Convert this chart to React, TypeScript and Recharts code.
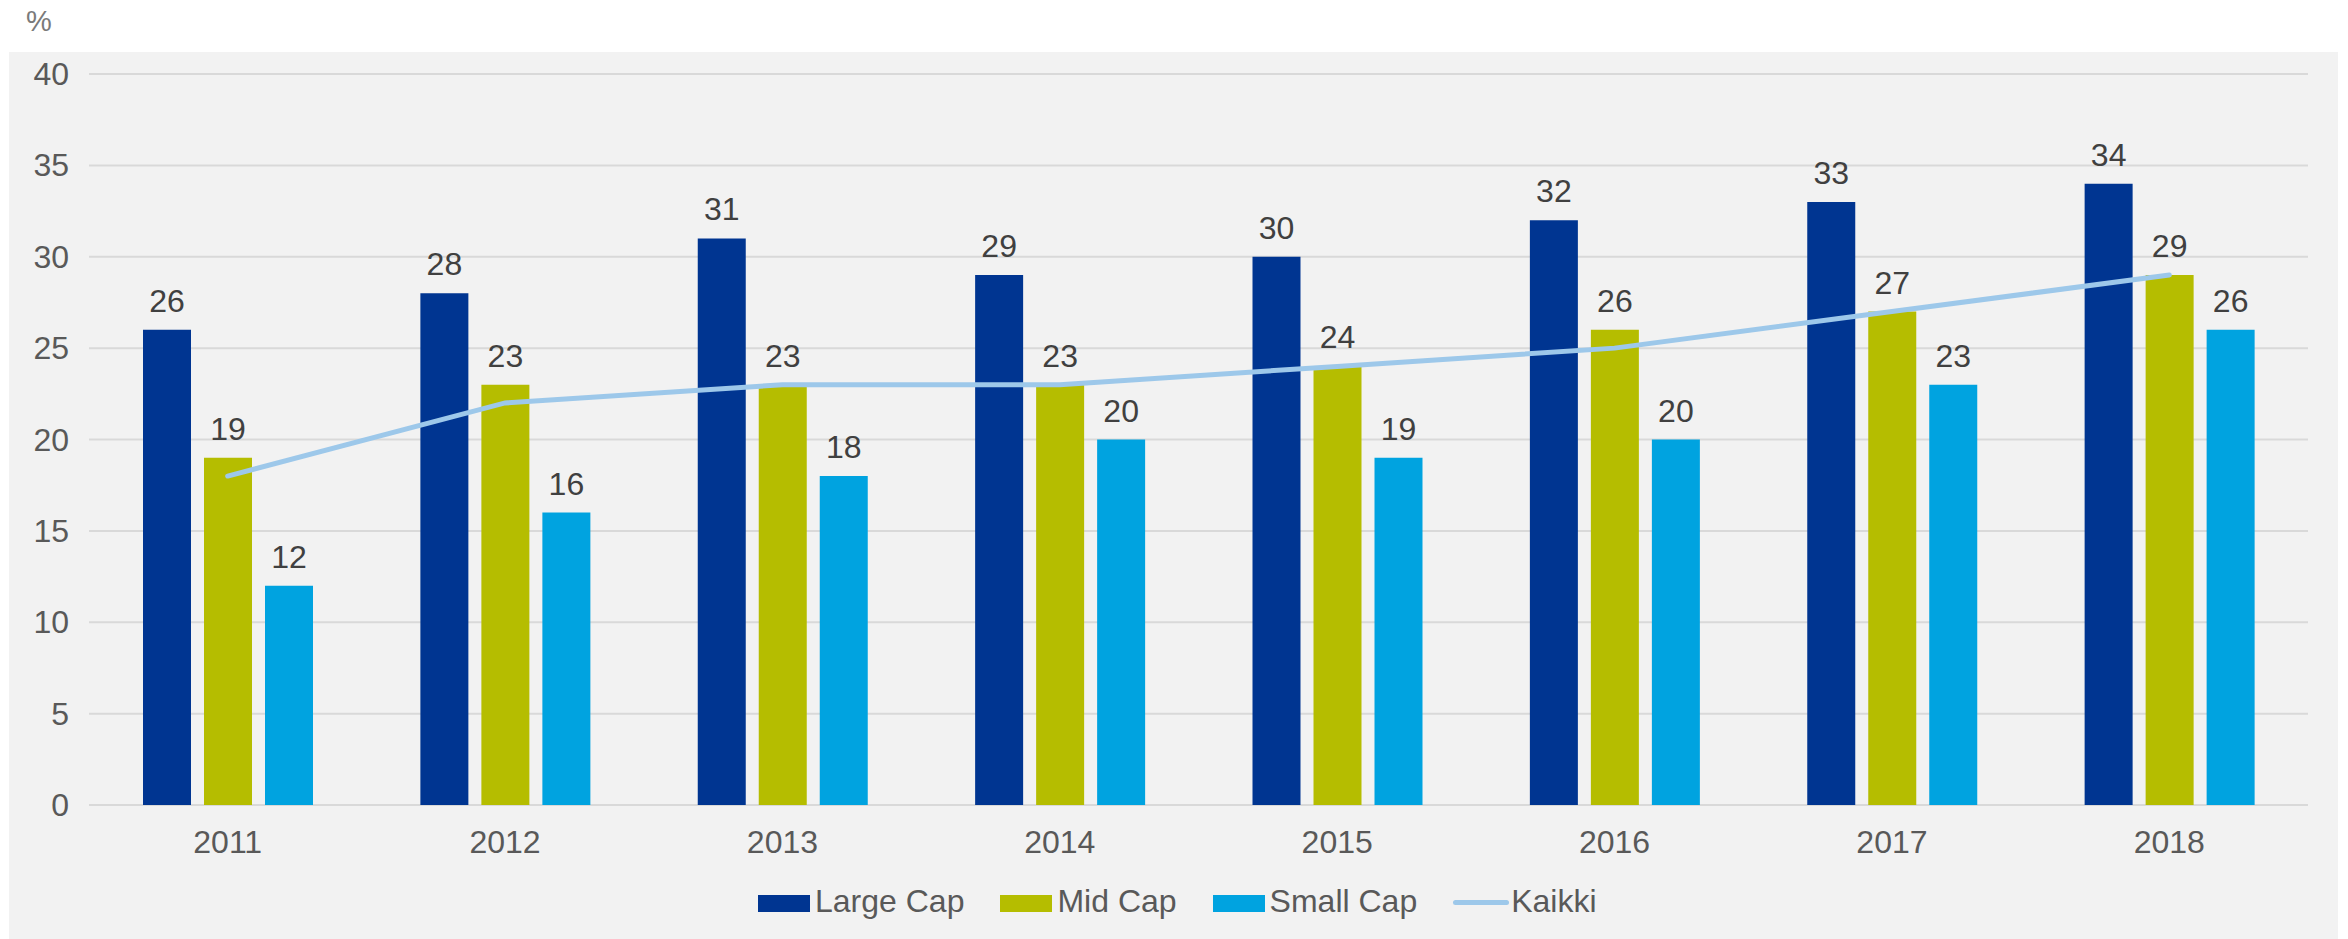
import React from 'react';
import {
  ComposedChart,
  Bar,
  Line,
  XAxis,
  YAxis,
  CartesianGrid,
  LabelList,
} from 'recharts';

const years = ['2011', '2012', '2013', '2014', '2015', '2016', '2017', '2018'];
const largeCap = [26, 28, 31, 29, 30, 32, 33, 34];
const midCap = [19, 23, 23, 23, 24, 26, 27, 29];
const smallCap = [12, 16, 18, 20, 19, 20, 23, 26];
const kaikki = [18, 22, 23, 23, 24, 25, 27, 29];
const yTicks = [0, 5, 10, 15, 20, 25, 30, 35, 40];

const FONT = "'Liberation Sans', Arial, sans-serif";
const TICK_COLOR = '#595959';
const LABEL_COLOR = '#404040';

const COLORS = {
  large: '#003591',
  mid: '#B5BD00',
  small: '#00A3E0',
  line: '#9DC8EA',
};

const data = years.map((year, i) => ({
  year,
  large: largeCap[i],
  mid: midCap[i],
  small: smallCap[i],
  all: kaikki[i],
}));

const legendItems = [
  { name: 'Large Cap', color: COLORS.large, kind: 'box' },
  { name: 'Mid Cap', color: COLORS.mid, kind: 'box' },
  { name: 'Small Cap', color: COLORS.small, kind: 'box' },
  { name: 'Kaikki', color: COLORS.line, kind: 'line' },
];

const YTick = (props: any) => {
  const { x, y, payload } = props;
  return (
    <text
      x={x - 20}
      y={y}
      textAnchor="end"
      dominantBaseline="central"
      fontSize={32}
      fontFamily={FONT}
      fill={TICK_COLOR}
    >
      {payload.value}
    </text>
  );
};

const XTick = (props: any) => {
  const { x, y, payload } = props;
  return (
    <text
      x={x}
      y={y + 48}
      textAnchor="middle"
      fontSize={32}
      fontFamily={FONT}
      fill={TICK_COLOR}
    >
      {payload.value}
    </text>
  );
};

const labelProps = {
  position: 'top' as const,
  offset: 18,
  fontSize: 32,
  fontFamily: FONT,
  fill: LABEL_COLOR,
};

const App: React.FC = () => {
  return (
    <div
      style={{
        position: 'absolute',
        left: 0,
        top: 0,
        width: 2348,
        height: 939,
        background: '#ffffff',
        fontFamily: FONT,
      }}
    >
      <div
        style={{
          position: 'absolute',
          left: 9,
          top: 52,
          width: 2329,
          height: 887,
          background: '#F2F2F2',
        }}
      />
      <div
        style={{
          position: 'absolute',
          left: 26,
          top: 7,
          fontSize: 29,
          lineHeight: 1,
          color: '#7a7a7a',
        }}
      >
        %
      </div>
      <div style={{ position: 'absolute', left: 0, top: 0 }}>
        <ComposedChart
          width={2348}
          height={939}
          data={data}
          margin={{ top: 74, right: 40, left: 0, bottom: 0 }}
          barSize={48}
          barGap={13}
        >
          <CartesianGrid vertical={false} stroke="#D9D9D9" strokeWidth={2} />
          <XAxis
            dataKey="year"
            height={134}
            axisLine={false}
            tickLine={false}
            tickSize={0}
            tickMargin={0}
            tick={<XTick />}
            interval={0}
          />
          <YAxis
            width={89}
            domain={[0, 40]}
            ticks={yTicks}
            axisLine={false}
            tickLine={false}
            tickSize={0}
            tickMargin={0}
            tick={<YTick />}
          />
          <Bar dataKey="large" name="Large Cap" fill={COLORS.large} isAnimationActive={false}>
            <LabelList dataKey="large" {...labelProps} />
          </Bar>
          <Bar dataKey="mid" name="Mid Cap" fill={COLORS.mid} isAnimationActive={false}>
            <LabelList dataKey="mid" {...labelProps} />
          </Bar>
          <Bar dataKey="small" name="Small Cap" fill={COLORS.small} isAnimationActive={false}>
            <LabelList dataKey="small" {...labelProps} />
          </Bar>
          <Line
            type="linear"
            dataKey="all"
            name="Kaikki"
            stroke={COLORS.line}
            strokeWidth={5}
            strokeLinecap="round"
            dot={false}
            activeDot={false}
            isAnimationActive={false}
          />
        </ComposedChart>
      </div>
      <div
        style={{
          position: 'absolute',
          left: 758,
          top: 885,
          display: 'flex',
          alignItems: 'center',
          fontSize: 32,
          lineHeight: 1,
          color: TICK_COLOR,
        }}
      >
        {legendItems.map((item) => (
          <div
            key={item.name}
            style={{ display: 'flex', alignItems: 'center', marginRight: 36 }}
          >
            {item.kind === 'box' ? (
              <div
                style={{
                  width: 52,
                  height: 17,
                  background: item.color,
                  marginRight: 5,
                  marginTop: 5,
                }}
              />
            ) : (
              <div
                style={{
                  width: 56,
                  height: 5,
                  borderRadius: 3,
                  background: item.color,
                  marginRight: 2,
                  marginTop: 3,
                }}
              />
            )}
            <span>{item.name}</span>
          </div>
        ))}
      </div>
    </div>
  );
};

export default App;
